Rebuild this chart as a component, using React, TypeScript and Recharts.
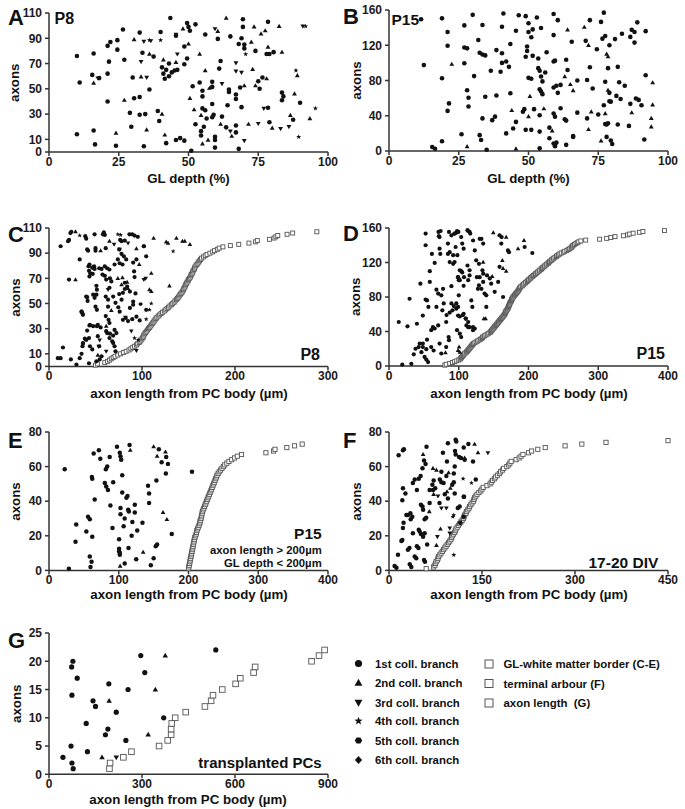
import React from 'react';
import { ScatterChart, Scatter, XAxis, YAxis } from 'recharts';

type P = [number, number];

// ---------- Panel A (P8, GL depth %) ----------
const A_first: P[] = [[10,76],[11,55],[10,14],[16,78],[15.5,61],[18,58.5],[16,17],[16.5,6],[21,84],[22,87],[21.5,71.5],[21,62],[21,40],[24.5,88.5],[24.5,81],[24,5],[26.5,97],[27,73],[29,31],[29.5,20],[30,59],[30.5,42.5],[32.5,43.5],[32.5,94.5],[32.5,29.5],[33.5,78.5],[34.5,30],[34,4.5],[36,49.5],[37.5,75.5],[39,32.5],[40,95],[39.5,24.5],[40.5,67],[41,62],[41.5,58],[42,65],[43,70],[43,60],[44,63],[45,64.5],[46,65],[43.5,106],[42,7],[45.5,92],[47,11],[45.5,9.5],[48.5,83.5],[48.5,9],[49.5,102],[50,99],[50.5,96],[49.5,74],[48.5,69.5],[51,1],[51.5,52],[52.5,22],[52.5,101],[54,55],[55,48.5],[55,44],[55,34.5],[56,93],[56.5,26.5],[55.5,20],[54.5,16.5],[54.5,13],[58.5,55.5],[58.5,51.5],[58.5,38],[59,29.5],[58.5,27.5],[59.5,12],[59.5,9.5],[59.5,3.5],[60.5,89.5],[61,66],[61.5,72],[62,28],[64,37],[65,91.5],[64.5,49.5],[64.5,47.5],[67,45.5],[67,42],[67,21],[68,85.5],[69,90],[68,2.5],[69,35.5],[68.5,51],[69.5,105],[69.5,99],[70,85],[70,82],[74,80],[75,56],[75.5,50],[76.5,59],[78,77.5],[79,77.5],[78.5,35],[79,23.5],[78.5,103],[80.5,79],[83.5,47],[83.5,41],[84,44],[87.5,25.5],[90,39],[63.5,19.5],[67,15.5],[56,33]];
const A_second: P[] = [[16,54.5],[24,15],[27,41],[30.5,89],[33,59.5],[36,77.5],[35,17.5],[40.5,30],[41.5,13.5],[41,73],[45.5,71],[48,97.5],[50,85.5],[52,33.5],[50.5,42.5],[54,77.5],[54.5,29],[55,6.5],[56,64.5],[57.5,50.5],[57,9.5],[60.5,95.5],[63.5,106],[61.5,22],[65.5,12.5],[70,52.5],[71.5,22],[72.5,87],[73.5,99],[73,65.5],[74,52.5],[78,58],[77.5,96],[76,93.5],[78.5,83],[82.5,99.5],[80,19],[83.5,79],[86.5,29],[88,46],[89,60.5],[93.5,26.5]];
const A_third: P[] = [[17.5,58.5],[33,71.5],[34,87.5],[36.5,88],[35,59],[46,77.5],[45.5,93],[59.5,97.5],[62,54],[67,64],[67,70.5],[69,63],[65,16.5],[70,9],[75,22.5],[77,34.5],[83,18.5],[86,20],[91,99.5]];
const A_fourth: P[] = [[40,88.5],[36,88.5],[70.5,77.5],[88.5,64.5],[89.5,12],[95.5,34.5],[92,99.5]];

// ---------- Panel B (P15, GL depth %) ----------
const B_first: P[] = [[11.5,149.5],[12.5,97.5],[19,150.5],[19,82.5],[19,11],[21,135],[21,119.5],[21.5,54],[21,45.5],[15.5,4.5],[16.5,2.5],[27,142.5],[27,117.5],[28,116.5],[27,99.5],[28,69],[28.5,60.5],[28.5,50.5],[26,19],[30,154.5],[30.5,85],[32,126],[32.5,111.5],[33.5,109.5],[34.5,108.5],[32.5,18],[33,12.5],[33.5,37],[33.5,143],[34.5,61.5],[35,1.5],[36.5,91],[37,35],[38,39],[38.5,63],[38.5,114.5],[40,90],[40.5,100],[40.5,111],[40.5,141],[41,156],[42,101.5],[43,95.5],[42,20],[43.5,65.5],[43.5,121.5],[44.5,25.5],[45.5,33],[45.5,136.5],[46.5,154],[48.5,47.5],[48,44.5],[49,153],[50,145],[50,135],[49,24],[51,24],[49.5,118.5],[49.5,113.5],[49,107],[50,83],[51,82],[51.5,138],[51,129],[51.5,108],[52,47.5],[53,151.5],[53.5,105],[53.5,94],[54,91],[54.5,84.5],[55,79],[54,70],[54.5,67.5],[55,64.5],[54,3],[54,22],[54,40.5],[54.5,139.5],[56,89],[56.5,112],[57.5,14.5],[57.5,26.5],[59,155.5],[59,131.5],[59,101.5],[59.5,102.5],[59,72],[60,74],[59,42.5],[59.5,39],[59,8.5],[59.5,5.5],[60,9.5],[60.5,148.5],[60.5,66],[61.5,75],[61.5,48.5],[63,36],[63.5,34.5],[63.5,7],[63.5,103.5],[64,92],[65.5,124],[66,17],[66,16],[67.5,43.5],[67.5,80],[70.5,125],[71,80.5],[71,37],[72,148.5],[72,95],[73,71],[74.5,115.5],[75,41.5],[76,146.5],[77,157],[76.5,127.5],[77.5,130.5],[77,52],[77.5,78.5],[77.5,30.5],[78,30],[78.5,31.5],[78,16],[78.5,94],[79,120],[79,66],[79,56.5],[79.5,12],[80,8],[79.5,56],[81,127],[82,95.5],[81.5,62.5],[83,59],[82.5,78],[82,30],[83.5,133],[84.5,74],[86,28.5],[86.5,129.5],[87,137.5],[88,135],[86.5,53.5],[88.5,59.5],[89.5,58],[88,123],[89,146],[90.5,52],[92,136],[92,86],[91.5,13]];
const B_second: P[] = [[22.5,98.5],[28,5],[44,46],[45.5,2.5],[50,39],[50.5,62],[55.5,48],[58.5,23],[64,137.5],[63,84.5],[65,75.5],[66,68.5],[70,140.5],[71.5,120],[71.5,24.5],[72.5,44.5],[76,11.5],[77.5,42.5],[78,110],[78.5,107],[78.5,69],[87,43.5],[94,37],[94,27.5],[94.5,77.5],[94.5,52.5]];

// ---------- Panel C (P8, axon length) ----------
const C_first: P[] = [[9.5,6.5],[12.5,6.5],[15,15],[12.5,95.5],[20.5,99.5],[21.5,69],[23,106],[23.5,5.5],[29.5,1.5],[33,6.5],[35,10],[36.5,18],[36,16],[38.5,22],[39,103.5],[41,55],[35,43.5],[36,42],[33,85],[41,93],[42,92],[42.5,79.5],[43,76],[43.5,71.5],[41,28.5],[43.5,32.5],[43,2.5],[44,16],[46.5,13.5],[49,105],[50,94],[50,92],[48.5,79.5],[49,77.5],[51,64],[51.5,61],[51,57],[50,47.5],[51.5,45],[51.5,32],[52.5,24],[54,16],[56.5,8],[59,106.5],[60,104.5],[61,94],[60,79.5],[62.5,78],[65,77],[61.5,69],[65,62.5],[61,55.5],[63.5,53],[63.5,47.5],[61,40],[64,37],[65,34.5],[62.5,26.5],[65,22.5],[68,20],[69,18.5],[70.5,16],[71.5,12],[70.5,81],[69,55.5],[71.5,50.5],[70.5,29],[75.5,57.5],[78,53],[74.5,47],[76,43.5],[76.5,100.5],[78,99.5],[81.5,100],[75.5,93],[78,89.5],[80.5,87.5],[83,85],[79.5,37],[82.5,38.5],[85,36],[81.5,61.5],[79.5,58.5],[86.5,105],[89.5,105],[92,104],[90.5,82.5],[94,85],[91.5,75.5],[92,71],[93,58],[90.5,51.5],[89.5,37.5],[95.5,103],[102,95.5],[104.5,45],[21.5,100.5],[24,107],[40,101.5],[58,105],[43.5,81],[46.5,78.5],[44.5,74],[47,73.5],[54,78],[56.5,77.5],[57.5,73],[60,72],[65.5,70],[67,67.5],[40,55.5],[41.5,52],[47.5,57],[49,54.5],[35,43.5],[36.5,41],[44,33],[47.5,32],[52.5,33],[55.5,31],[36.5,18.5],[40,21],[43,22.5],[61.5,28],[65.5,26],[69,24.5],[72.5,26.5],[51,4],[54.5,5.5],[74,85],[76,82],[79,81],[81.5,66.5],[84,63.5],[87,59.5],[94,39.5],[97.5,36.5],[87,46.5],[90.5,49],[102,95.5],[104.5,87.5]];
const C_second: P[] = [[28.5,107],[28.5,69],[65,99.5],[67,44.5],[74,70],[78,65],[85,62],[94,93.5],[97,81],[110,59.5],[112.5,102],[110,74],[129.5,64],[126,99],[137,102],[146,99.5],[151.5,97],[52.5,9],[61.5,32],[84,67],[55.5,92],[79,70.5],[108,61],[143.5,99.5],[128,98]];
const C_third: P[] = [[54.5,21],[85,98],[102,69],[53.5,16],[88.5,28],[76,93],[104,70],[63.5,61],[61.5,12],[94,12.5],[70,97],[82,39]];
const C_fourth: P[] = [[33,104],[74,105],[133.5,91.5],[92,22.5],[104.5,37.5],[108,45],[77,104.5],[96,21],[110,50]];
const C_fifth: P[] = [[98.5,49.5]];
// GL-white matter border, one per axon (axon 1..107)
const C_border: number[] = [50,52,60,63,65,67,69,71,74,77,80,83,86,88,90,92,94,95,97,98,99,100,101,101.5,102,103,104,105,106,107,108,109,110,111,112,113,114,115,116,117.5,119,120.5,122,124,125.5,127,128.5,130,131.5,133,134.5,135.5,137,138,139,140,141,142,143,144,144.5,145,146,146.5,147,148,148.5,149.5,150,151,152,152.5,153,154,154.5,155,156,156.5,157,158,159,160,161,162,163,164,166,168,170,173,176,178,181,183,187,195,204,215,222,224,237,242,244,246,256,262,288];

// ---------- Panel D (P15, axon length) ----------
const D_first: P[] = [[14,51],[19,1.5],[26.5,46],[29.5,78],[32,2.5],[35.5,13.5],[38,20],[40,49],[42.5,22],[46.5,16],[48.5,26],[45,95.5],[48.5,58.5],[51,10.5],[53.5,7.5],[56,4.5],[52.5,153.5],[52.5,140],[52.5,77],[54.5,76],[54.5,30.5],[56.5,68.5],[58.5,110],[58.5,97.5],[60.5,41.5],[63,45],[60.5,22],[64,18],[61.5,130],[65.5,119.5],[68,88.5],[68,68.5],[71,155.5],[72.5,149.5],[72.5,136],[73.5,130],[72.5,26],[75,14.5],[77.5,89.5],[78.5,72.5],[76.5,64.5],[82,51],[82,22],[84.5,142],[84.5,130],[85.5,33.5],[86,30],[87,120.5],[92,118.5],[89.5,92.5],[91,64.5],[94,153.5],[96.5,154.5],[99.5,155.5],[95.5,138],[98,128.5],[99,103],[100,99.5],[100,82],[96.5,72.5],[99,68.5],[99,58.5],[101.5,57.5],[97.5,41.5],[101.5,37.5],[103.5,33.5],[103.5,149.5],[105,142],[107,136],[103.5,110],[107,93],[107,60.5],[110,55],[111,47],[113.5,45],[112.5,157.5],[115.5,155.5],[112.5,116.5],[115.5,111],[113.5,99.5],[115.5,105],[118,76],[119.5,68.5],[120.5,45],[123,43.5],[120.5,145.5],[123,134],[125,122.5],[129,118.5],[126,103],[130,103],[127.5,89.5],[132.5,147.5],[134,111],[135,107],[135,97.5],[137,84],[139.5,82],[139.5,68.5],[146.5,95.5],[151.5,86],[156.5,97.5],[158.5,115],[161,142],[163.5,80],[170.5,134],[172,132],[194.5,138],[205.5,131],[158.5,151.5],[161.5,149.5],[74,156.5],[71.5,150.5],[86,155.5],[89.5,151.5],[94,153.5],[97.5,156.5],[87,132],[92,128.5],[94,120.5],[101.5,111],[105,108.5],[107.5,103],[113.5,156.5],[116.5,153.5],[130,147.5],[135,142],[99,103],[101.5,99.5],[70.5,84],[75,82],[89.5,72.5],[93,69.5],[96.5,66.5],[82.5,59],[87,62],[65.5,43.5],[70.5,47],[106,59],[110,55],[113.5,51],[115.5,45],[120.5,41.5],[129,93.5],[132.5,89.5],[140.5,105],[144.5,101.5],[44,26],[48.5,22],[53.5,19.5]];
const D_second: P[] = [[81,15.5],[100.5,22],[136,55],[148,104],[149.5,154.5],[162.5,122.5],[168,149.5],[185,136],[193.5,145.5],[163.5,113],[168,110],[135,120.5],[138.5,55],[99,18],[101.5,16]];
// GL-white matter border, one per axon (axon 1..157)
const D_border: number[] = [80,82,87,91,94,97,100,102,103,104,105,106,107,108,109,111,112,113,114,115,116,117,118,119,120,121,123,125,127,129,131,133,134,135,137,139,141,143,145,146,147,148,149,150,151,152,153,154,155,156,157,158,159,160,161,162,163,164,165,166,166.5,167,167.5,168,169,170,170.5,171,171.5,172,172.5,173,173.5,174,175,175.5,176,176.5,177,178,179,180,181,182,183,184,185,186,186.5,187,188,189,191,192,193,195,196,198,199,200,202,203,204,206,207,209,210,212,213,215,216,218,219,220,222,223,225,226,228,229,230,232,233,235,236,238,240,241,243,245,247,250,252,255,257,259,261,262,263,264,266,268,270,272,275,282,302,312,318,324,336,342,345,350,359,364,395];

// ---------- Panel E (P15, long axons) ----------
const E_first: P[] = [[22.5,58.5],[28.5,1],[39,26.5],[38,16.5],[53.5,22.5],[56,31],[58.5,29.5],[58.5,8],[59.5,2],[61,5],[62,19.5],[61.5,54],[62,53],[64,67.5],[65.5,41],[71.5,69.5],[73.5,64.5],[81.5,58.5],[83.5,60],[87,65.5],[80,50.5],[82,48.5],[84.5,46.5],[88,37.5],[91,24.5],[92,51],[97.5,71.5],[101.5,68],[102.5,66],[103.5,64],[100.5,18],[100.5,12.5],[100.5,11],[101.5,10],[101.5,9],[102.5,36],[102.5,32.5],[105,55],[105,45],[108.5,30],[107,25.5],[111,42],[112.5,43],[113.5,35],[114.5,34],[114,13],[108.5,4],[115.5,72.5],[119.5,28],[118.5,20],[123,38],[123,33.5],[125,6.5],[126.5,23],[134,27.5],[142,49],[143.5,44.5],[143.5,39],[146,3],[150,7],[153,14],[155,15],[154,52],[157.5,70],[161.5,62.5],[168,65.5],[170.5,61.5],[167.5,56],[176,21],[205,57]];
const E_second: P[] = [[116.5,69.5],[150,71.5],[155,66],[167,68.5],[163.5,33.5],[169,29.5],[135,10.5],[102,2.5]];
// GL-white matter border, one per axon (axon 1..73)
const E_border: number[] = [200,200.5,201,201.5,202,202.5,203,203.5,204,204.5,205,205.5,206,206.5,207,207.5,208,208.5,209,210,211,211.5,212,213,214,215,216,216.5,217,218,218.5,219,219.5,220,221,222,223,224,225,226,227,228,229,230,231,232,233,234,235,236,237,238,239,240,241,242.5,244,246,248,250,252,255,258,262,266,270,276,311,322,324,341,352,363];

// ---------- Panel F (17-20 DIV) ----------
const F_first: P[] = [[9,2.5],[12,1.5],[14.5,9],[20,17],[21.5,17.5],[22.5,24.5],[23.5,27.5],[28,32],[30.5,32],[30.5,12],[33,13],[33.5,3.5],[36,2],[35,29.5],[37.5,31],[38.5,21.5],[41.5,8],[44,7],[45,14],[47.5,13],[48,23.5],[49.5,22.5],[51.5,21],[55,19.5],[57.5,21.5],[51.5,38],[54,37],[55,35],[56.5,6],[58,5],[57.5,29.5],[60,30.5],[61.5,15],[65.5,39],[71,46.5],[74.5,47.5],[81.5,39],[88,50.5],[92.5,54.5],[102,49.5],[106,44.5],[111,36],[114,37],[115,27.5],[120.5,42.5],[120.5,31],[15.5,66.5],[22.5,69.5],[24,70],[22.5,47.5],[26.5,44.5],[21.5,40.5],[34.5,33],[38.5,50.5],[41.5,52.5],[45,46.5],[48,53],[51,54.5],[54,59],[56.5,63.5],[59,61.5],[60.5,71.5],[65.5,46.5],[70,49.5],[72,52],[82,52.5],[84.5,51],[84.5,57],[87,68],[90,44],[95,41.5],[93.5,63],[95,73.5],[104.5,51],[107.5,75.5],[108.5,74.5],[106.5,69],[107.5,67],[106,60],[104.5,56],[113,65.5],[116,65],[120.5,71],[122,64],[121,42.5],[140,52.5],[128,73],[135.5,63]];
const F_second: P[] = [[55,67],[71,59],[76.5,58],[72,44],[96,56.5],[93.5,45.5],[99,47.5],[138,73],[122,65],[143.5,68],[83,24],[76.5,14.5],[65,34]];
const F_third: P[] = [[159.5,68],[84.5,36],[92.5,36],[79,43],[78,19.5],[98,21.5],[98,24.5]];
const F_fourth: P[] = [[119.5,53],[133,50.5],[104.5,32],[103,31],[104.5,9]];
// terminal arbour, one per axon (axon 1..75)
const F_arbour: number[] = [60,72,74,75,76,78,79,80,82,84,86,88,90,92,94,96,98,100,101,102,104,106,107,108,110,112,114,116,118,120,121,122,124,125,127,129,130,132,134,136,137,138,140,142,145,148,150,152,158,163,165,167,170,172,175,178,180,183,185,190,193,195,197,205,210,213,216,225,230,240,252,284,311,350,450];

// ---------- Panel G (transplanted PCs) ----------
const G_first: P[] = [[45,3],[73,19],[77,20],[74,14],[71,5],[74,2],[78,1],[91,17],[120,9],[124,4],[142,13],[150,12],[182,7],[190,8],[193,16],[217,11],[248,6],[255,15],[296,21],[309,18],[370,10],[538,22]];
const G_second: P[] = [[171,3],[194,13],[320,7],[343,15],[375,21]];
const G_third: P[] = [[217,3]];
// axon length, one per axon (axon 1..22)
const G_length: number[] = [195,197,240,266,355,383,394,394,396,407,441,503,523,529,559,602,617,660,665,847,871,889];

// ---------- helpers ----------
const FONT = '"Liberation Sans", Arial, Helvetica, sans-serif';
const toPts = (a: P[]) => a.map(([x, y]) => ({ x, y }));
const rankPts = (xs: number[]) => xs.map((x, i) => ({ x, y: i + 1 }));

type Kind = 'circle' | 'up' | 'down' | 'star' | 'hex' | 'diamond' | 'square';

function Marker({ kind, cx, cy, s }: { kind: Kind; cx: number; cy: number; s: number }) {
  const f = '#111';
  const r = s / 2;
  switch (kind) {
    case 'circle':
      return <circle cx={cx} cy={cy} r={r} fill={f} />;
    case 'up':
      return <polygon points={`${cx},${cy - r * 1.15} ${cx - r * 1.1},${cy + r * 0.75} ${cx + r * 1.1},${cy + r * 0.75}`} fill={f} />;
    case 'down':
      return <polygon points={`${cx},${cy + r * 1.15} ${cx - r * 1.1},${cy - r * 0.75} ${cx + r * 1.1},${cy - r * 0.75}`} fill={f} />;
    case 'star': {
      const pts: string[] = [];
      for (let i = 0; i < 10; i++) {
        const rr = i % 2 === 0 ? r * 1.2 : r * 0.5;
        const a = -Math.PI / 2 + (i * Math.PI) / 5;
        pts.push(`${cx + rr * Math.cos(a)},${cy + rr * Math.sin(a)}`);
      }
      return <polygon points={pts.join(' ')} fill={f} />;
    }
    case 'hex': {
      const pts: string[] = [];
      for (let i = 0; i < 6; i++) {
        const a = (i * Math.PI) / 3;
        pts.push(`${cx + r * 1.05 * Math.cos(a)},${cy + r * 0.95 * Math.sin(a)}`);
      }
      return <polygon points={pts.join(' ')} fill={f} />;
    }
    case 'diamond':
      return <polygon points={`${cx},${cy - r * 1.1} ${cx + r},${cy} ${cx},${cy + r * 1.1} ${cx - r},${cy}`} fill={f} />;
    case 'square':
    default:
      return <rect x={cx - r} y={cy - r} width={s} height={s} fill="#fff" stroke="#555" strokeWidth={0.9} />;
  }
}

type Series = { data: { x: number; y: number }[]; kind: Kind; s: number };

const YW = 49;
const MT = 8;
const XH = 30;
const PW = 279;
const MR = 14;

function Panel({ left, top, h, xMax, xTicks, yMax, yTicks, series }: {
  left: number; top: number; h: number; xMax: number; xTicks: number[]; yMax: number; yTicks: number[]; series: Series[];
}) {
  const tickStyle = { fontSize: 12, fontWeight: 700, fill: '#1a1a1a', fontFamily: FONT };
  return (
    <div style={{ position: 'absolute', left: left - YW, top: top - MT }}>
      <ScatterChart width={YW + PW + MR} height={MT + h + XH} margin={{ top: MT, right: MR, bottom: 0, left: 0 }}>
        <XAxis
          type="number" dataKey="x" domain={[0, xMax]} ticks={xTicks} interval={0}
          height={XH} tickSize={4} tickMargin={1}
          tick={tickStyle} axisLine={{ stroke: '#333', strokeWidth: 1.5 }} tickLine={{ stroke: '#333', strokeWidth: 1.5 }}
        />
        <YAxis
          type="number" dataKey="y" domain={[0, yMax]} ticks={yTicks} interval={0}
          width={YW} tickSize={4} tickMargin={3}
          tick={tickStyle} axisLine={{ stroke: '#333', strokeWidth: 1.5 }} tickLine={{ stroke: '#333', strokeWidth: 1.5 }}
        />
        {series.map((se, i) => (
          <Scatter
            key={i}
            data={se.data}
            isAnimationActive={false}
            shape={(p: any) => <Marker kind={se.kind} cx={p.cx} cy={p.cy} s={se.s} />}
          />
        ))}
      </ScatterChart>
    </div>
  );
}

function T({ x, y, size = 13.3, anchor = 'start', rot = false, children }: {
  x: number; y: number; size?: number; anchor?: 'start' | 'middle' | 'end'; rot?: boolean; children: React.ReactNode;
}) {
  return (
    <text
      x={x} y={y} fontSize={size} fontWeight={700} fontFamily={FONT} fill="#111" textAnchor={anchor}
      style={{ whiteSpace: 'pre' }}
      transform={rot ? `rotate(-90 ${x} ${y})` : undefined}
    >
      {children}
    </text>
  );
}

const legendLeft: { kind: Kind; label: string }[] = [
  { kind: 'circle', label: '1st coll. branch' },
  { kind: 'up', label: '2nd coll. branch' },
  { kind: 'down', label: '3rd coll. branch' },
  { kind: 'star', label: '4th coll. branch' },
  { kind: 'hex', label: '5th coll. branch' },
  { kind: 'diamond', label: '6th coll. branch' },
];
const legendRight: string[] = ['GL-white matter border (C-E)', 'terminal arbour (F)', 'axon length \u00a0(G)'];
const legendLeftY = [663.5, 683, 702.5, 721, 740.5, 760];
const legendRightY = [664, 683.5, 703];

export default function App() {
  const GLT = [0, 25, 50, 75, 100];
  const Y110 = [0, 10, 30, 50, 70, 90, 110];
  const Y160 = [0, 40, 80, 120, 160];
  const Y80 = [0, 20, 40, 60, 80];
  const xTitle = 'axon length from PC body (\u00b5m)';
  return (
    <div style={{ position: 'absolute', left: 0, top: 0, width: 685, height: 809, background: '#fff', overflow: 'hidden' }}>
      <Panel left={49.3} top={13.3} h={139} xMax={100} xTicks={GLT} yMax={110} yTicks={Y110}
        series={[
          { data: toPts(A_first), kind: 'circle', s: 4.6 },
          { data: toPts(A_second), kind: 'up', s: 4.4 },
          { data: toPts(A_third), kind: 'down', s: 4.4 },
          { data: toPts(A_fourth), kind: 'star', s: 4.4 },
        ]} />
      <Panel left={389.3} top={10} h={141} xMax={100} xTicks={GLT} yMax={160} yTicks={Y160}
        series={[
          { data: toPts(B_first), kind: 'circle', s: 4.6 },
          { data: toPts(B_second), kind: 'up', s: 4.4 },
        ]} />
      <Panel left={49.3} top={228.3} h={138.4} xMax={300} xTicks={[0, 100, 200, 300]} yMax={110} yTicks={Y110}
        series={[
          { data: rankPts(C_border), kind: 'square', s: 4 },
          { data: toPts(C_first), kind: 'circle', s: 4.2 },
          { data: toPts(C_second), kind: 'up', s: 4.2 },
          { data: toPts(C_third), kind: 'down', s: 4.2 },
          { data: toPts(C_fourth), kind: 'star', s: 4.2 },
          { data: toPts(C_fifth), kind: 'hex', s: 4.2 },
        ]} />
      <Panel left={389.3} top={227.7} h={138} xMax={400} xTicks={[0, 100, 200, 300, 400]} yMax={160} yTicks={Y160}
        series={[
          { data: rankPts(D_border), kind: 'square', s: 4 },
          { data: toPts(D_first), kind: 'circle', s: 4.2 },
          { data: toPts(D_second), kind: 'up', s: 4.2 },
        ]} />
      <Panel left={49.3} top={432.3} h={138.4} xMax={400} xTicks={[0, 100, 200, 300, 400]} yMax={80} yTicks={Y80}
        series={[
          { data: rankPts(E_border), kind: 'square', s: 4.2 },
          { data: toPts(E_first), kind: 'circle', s: 4.5 },
          { data: toPts(E_second), kind: 'up', s: 4.3 },
        ]} />
      <Panel left={389.3} top={432.3} h={138.4} xMax={450} xTicks={[0, 150, 300, 450]} yMax={80} yTicks={Y80}
        series={[
          { data: rankPts(F_arbour), kind: 'square', s: 4.2 },
          { data: toPts(F_first), kind: 'circle', s: 4.5 },
          { data: toPts(F_second), kind: 'up', s: 4.3 },
          { data: toPts(F_third), kind: 'down', s: 4.3 },
          { data: toPts(F_fourth), kind: 'star', s: 4.3 },
        ]} />
      <Panel left={49.3} top={633} h={141.3} xMax={900} xTicks={[0, 300, 600, 900]} yMax={25} yTicks={[0, 5, 10, 15, 20, 25]}
        series={[
          { data: rankPts(G_length), kind: 'square', s: 5.6 },
          { data: toPts(G_first), kind: 'circle', s: 5.2 },
          { data: toPts(G_second), kind: 'up', s: 5 },
          { data: toPts(G_third), kind: 'down', s: 5 },
        ]} />

      <svg width={685} height={809} style={{ position: 'absolute', left: 0, top: 0, pointerEvents: 'none' }}>
        {/* panel letters */}
        <T x={8} y={25} size={22}>A</T>
        <T x={343} y={24} size={22}>B</T>
        <T x={8} y={241.7} size={22}>C</T>
        <T x={343} y={240.7} size={22}>D</T>
        <T x={8} y={448} size={22}>E</T>
        <T x={343} y={448} size={22}>F</T>
        <T x={8} y={648} size={22}>G</T>

        {/* axis titles */}
        <T x={188.5} y={182.5} anchor="middle">GL depth (%)</T>
        <T x={528.5} y={182.5} anchor="middle">GL depth (%)</T>
        <T x={189} y={397.8} anchor="middle">{xTitle}</T>
        <T x={529} y={397.8} anchor="middle">{xTitle}</T>
        <T x={189} y={599} anchor="middle">{xTitle}</T>
        <T x={529} y={599} anchor="middle">{xTitle}</T>
        <T x={188} y={804} anchor="middle">{xTitle}</T>

        <T x={19.5} y={82.8} anchor="middle" rot>axons</T>
        <T x={360.5} y={80.5} anchor="middle" rot>axons</T>
        <T x={19.5} y={297.5} anchor="middle" rot>axons</T>
        <T x={360.5} y={296.7} anchor="middle" rot>axons</T>
        <T x={19.5} y={501.5} anchor="middle" rot>axons</T>
        <T x={360.5} y={501.5} anchor="middle" rot>axons</T>
        <T x={21.5} y={703.7} anchor="middle" rot>axons</T>

        {/* in-plot labels */}
        <T x={54.5} y={23.7} size={16}>P8</T>
        <T x={391.5} y={25} size={15.5}>P15</T>
        <T x={320} y={360} size={16} anchor="end">P8</T>
        <T x={665} y={359.3} size={16} anchor="end">P15</T>
        <T x={321.7} y={539.3} size={15.5} anchor="end">P15</T>
        <T x={321.7} y={554} size={11.3} anchor="end">{'axon length > 200\u00b5m'}</T>
        <T x={321.7} y={567.4} size={11.3} anchor="end">{'GL depth < 200\u00b5m'}</T>
        <T x={658.3} y={568.3} size={15.5} anchor="end">17-20 DIV</T>
        <T x={321.7} y={768.3} size={15} anchor="end">transplanted PCs</T>

        {/* legend */}
        {legendLeft.map((l, i) => (
          <g key={l.label}>
            <Marker kind={l.kind} cx={358.5} cy={legendLeftY[i]} s={7.2} />
            <T x={375} y={legendLeftY[i] + 4} size={11.4}>{l.label}</T>
          </g>
        ))}
        {legendRight.map((l, i) => (
          <g key={l}>
            <rect x={485} y={legendRightY[i] - 4} width={8} height={8} fill="#fff" stroke="#555" strokeWidth={1} />
            <T x={503.5} y={legendRightY[i] + 4} size={11.4}>{l}</T>
          </g>
        ))}
      </svg>
    </div>
  );
}
